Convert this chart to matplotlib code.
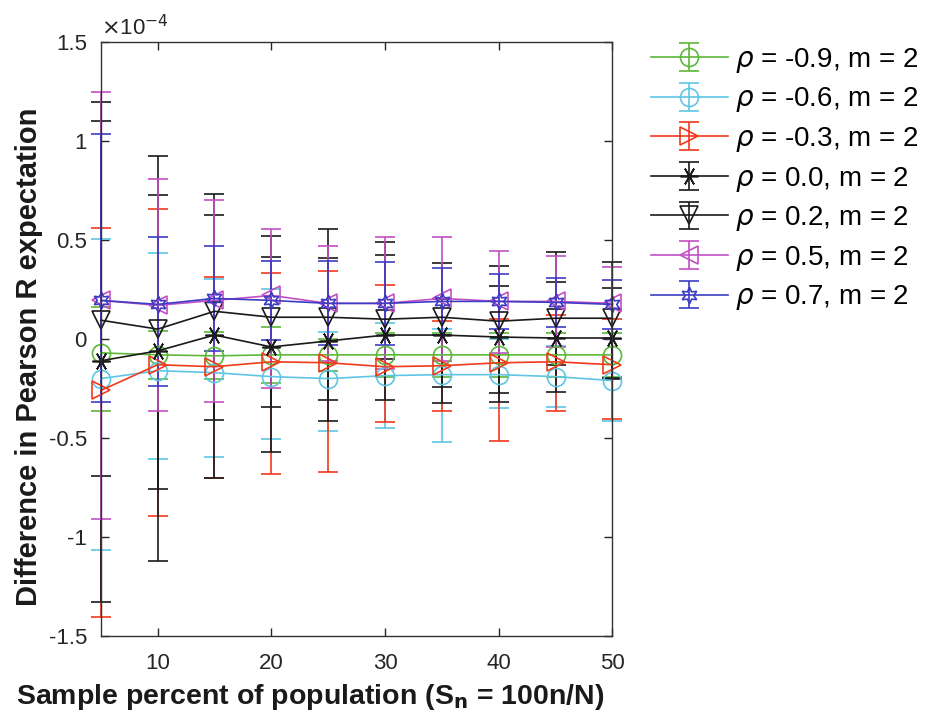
import matplotlib
matplotlib.use("Agg")
import matplotlib.pyplot as plt
import numpy as np
from matplotlib.ticker import FuncFormatter, MultipleLocator

plt.rcParams['font.family'] = ['Liberation Sans', 'DejaVu Sans']
plt.rcParams['axes.unicode_minus'] = False

# sample percent
x = [5, 10, 15, 20, 25, 30, 35, 40, 45, 50]

# values in units of 1e-4
labels = ["$\\rho$ = -0.9, m = 2", "$\\rho$ = -0.6, m = 2", "$\\rho$ = -0.3, m = 2",
          "$\\rho$ = 0.0, m = 2", "$\\rho$ = 0.2, m = 2", "$\\rho$ = 0.5, m = 2",
          "$\\rho$ = 0.7, m = 2"]

mean_m09 = [-0.07, -0.08, -0.085, -0.08, -0.08, -0.08, -0.08, -0.08, -0.08, -0.08]
hi_m09 = [0.163, 0.04, 0.035, 0.062, 0.0, 0.03, 0.03, 0.03, 0.03, 0.03]
lo_m09 = [-0.362, -0.20, -0.20, -0.22, -0.16, -0.19, -0.19, -0.19, -0.19, -0.19]

mean_m06 = [-0.20, -0.16, -0.17, -0.19, -0.20, -0.185, -0.18, -0.18, -0.19, -0.21]
hi_m06 = [0.503, 0.436, 0.301, 0.253, 0.037, 0.08, 0.05, 0.0, -0.035, 0.0]
lo_m06 = [-1.066, -0.606, -0.594, -0.507, -0.465, -0.448, -0.522, -0.347, -0.345, -0.414]

mean_m03 = [-0.26, -0.13, -0.14, -0.115, -0.12, -0.14, -0.135, -0.12, -0.115, -0.13]
hi_m03 = [0.562, 0.657, 0.315, 0.335, 0.343, 0.273, 0.09, 0.10, 0.12, 0.10]
lo_m03 = [-1.402, -0.894, -0.70, -0.683, -0.67, -0.418, -0.362, -0.515, -0.362, -0.406]

mean_p00 = [-0.11, -0.06, 0.02, -0.04, -0.01, 0.02, 0.02, 0.01, 0.005, 0.005]
hi_p00 = [1.10, 0.924, 0.626, 0.522, 0.407, 0.424, 0.20, 0.269, 0.29, 0.259]
lo_p00 = [-1.328, -1.121, -0.70, -0.572, -0.414, -0.10, -0.24, -0.271, -0.27, -0.20]

mean_p02 = [0.095, 0.05, 0.14, 0.11, 0.11, 0.10, 0.11, 0.09, 0.105, 0.105]
hi_p02 = [1.199, 0.727, 0.731, 0.416, 0.554, 0.488, 0.382, 0.369, 0.441, 0.387]
lo_p02 = [-0.69, -0.759, -0.409, -0.342, -0.31, -0.308, -0.325, -0.32, -0.13, -0.199]

mean_p05 = [0.195, 0.17, 0.195, 0.22, 0.18, 0.18, 0.205, 0.19, 0.19, 0.18]
hi_p05 = [1.249, 0.81, 0.702, 0.556, 0.47, 0.513, 0.517, 0.446, 0.419, 0.365]
lo_p05 = [-0.91, -0.362, -0.32, -0.249, -0.11, -0.15, -0.11, -0.07, -0.04, 0.0]

mean_p07 = [0.195, 0.175, 0.205, 0.195, 0.18, 0.18, 0.19, 0.19, 0.185, 0.175]
hi_p07 = [1.034, 0.517, 0.47, 0.396, 0.394, 0.387, 0.359, 0.327, 0.306, 0.298]
lo_p07 = [-0.32, -0.236, -0.06, -0.006, -0.03, -0.03, 0.02, 0.05, 0.06, 0.05]

series = [
    (mean_m09, hi_m09, lo_m09, '#5cb83a', 'o', 13),
    (mean_m06, hi_m06, lo_m06, '#5ec6e4', 'o', 13),
    (mean_m03, hi_m03, lo_m03, '#f23a1c', '>', 13),
    (mean_p00, hi_p00, lo_p00, '#1a1a1a', (6, 2, 90), 13),
    (mean_p02, hi_p02, lo_p02, '#1a1a1a', 'v', 13),
    (mean_p05, hi_p05, lo_p05, '#c250c4', '<', 13),
    (mean_p07, hi_p07, lo_p07, '#3c3cc4', (6, 1, 0), 12),
]

fig = plt.figure(figsize=(9.25, 7.25), dpi=100)
ax = fig.add_axes([0.109, 0.1228, 0.553, 0.8192])

handles = []
for (mu, hi, lo, col, mk, ms), lab in zip(series, labels):
    mu = np.array(mu)
    up = np.array(hi) - mu
    dn = mu - np.array(lo)
    h = ax.errorbar(x, mu, yerr=[dn, up], color=col, marker=mk, ms=ms,
                    mfc='none', mec=col, mew=1.2, lw=1.2, elinewidth=1.2,
                    capsize=7, capthick=1.2, label=lab, clip_on=False)
    handles.append(h)

ax.set_xlim(5, 50)
ax.set_ylim(-1.5, 1.5)
ax.xaxis.set_major_locator(MultipleLocator(10))
ax.yaxis.set_major_locator(MultipleLocator(0.5))
ax.yaxis.set_major_formatter(FuncFormatter(lambda v, p: '%g' % v))
ax.tick_params(direction='in', top=True, right=True, length=6, width=1,
               labelsize=16, colors='#262626')
ax.tick_params(axis='x', pad=12)
ax.tick_params(axis='y', pad=10)
for s in ax.spines.values():
    s.set_linewidth(1.0)
    s.set_color('#333333')

ax.text(0.0, 1.003, '$\\times$10$^{-4}$', transform=ax.transAxes,
        fontsize=16, ha='left', va='bottom', color='#262626')

ax.set_xlabel('Sample percent of population (S$_\\mathbf{n}$ = 100n/N)',
              fontsize=20.5, fontweight='bold', color='#1a1a1a')
ax.set_ylabel('Difference in Pearson R expectation', fontsize=21,
              fontweight='bold', color='#1a1a1a')
ax.xaxis.set_label_coords(0.41, -0.078)
ax.yaxis.set_label_coords(-0.113, 0.47)

leg = fig.legend(handles=handles, loc='upper left', bbox_to_anchor=(0.692, 0.952),
                 frameon=False, fontsize=20, handlelength=2.75, labelspacing=0.38,
                 handletextpad=0.25, borderaxespad=0)

fig.savefig('out.png', dpi=100)
